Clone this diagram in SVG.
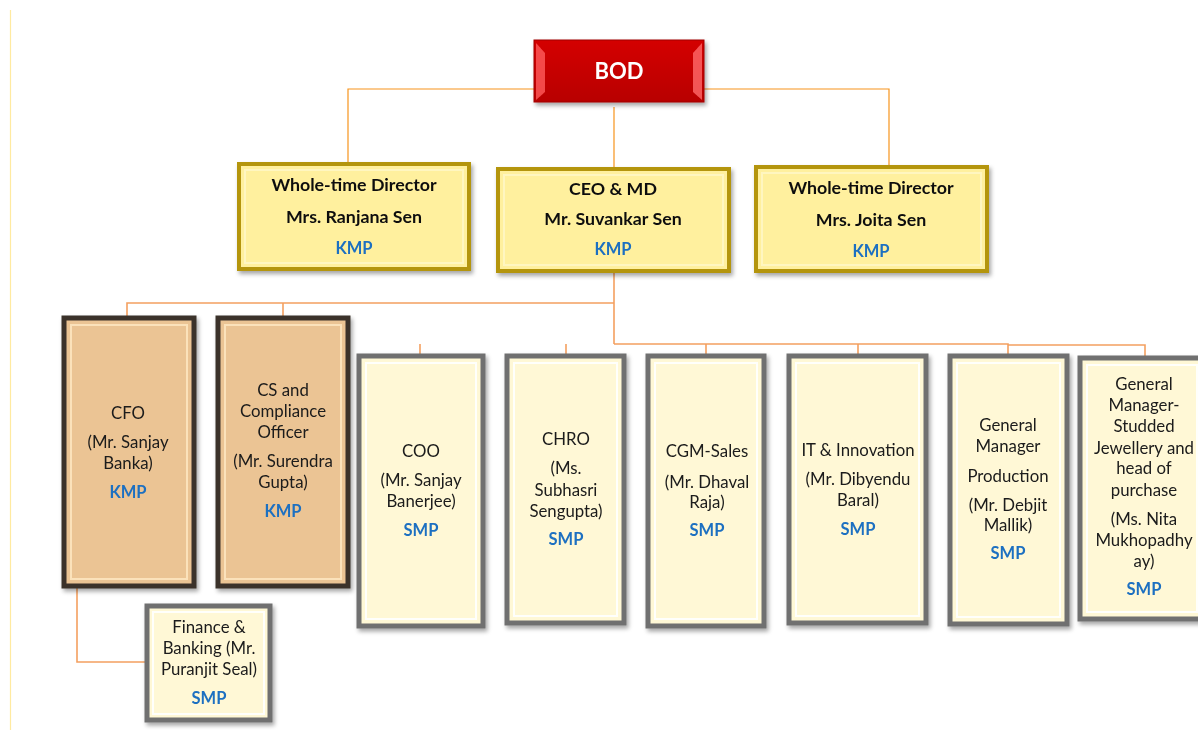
<svg xmlns="http://www.w3.org/2000/svg" width="1198" height="730" viewBox="0 0 1198 730">
<defs>
<filter id="sh" x="-10%" y="-10%" width="130%" height="130%"><feDropShadow dx="2" dy="3" stdDeviation="2" flood-color="#000" flood-opacity="0.35"/></filter>
<linearGradient id="red" x1="0" y1="0" x2="0" y2="1"><stop offset="0" stop-color="#d40000"/><stop offset="1" stop-color="#b80000"/></linearGradient>
</defs>
<style>
.t{font-family:Lato,"Liberation Sans",sans-serif;font-size:16.8px;fill:#1a1a1a;text-anchor:middle}
.b{font-family:Lato,"Liberation Sans",sans-serif;font-size:17.8px;font-weight:bold;fill:#111;text-anchor:middle}
.k{font-family:Lato,"Liberation Sans",sans-serif;font-size:16.5px;font-weight:bold;fill:#1f70c1;text-anchor:middle}
.c{fill:none;stroke:#f4a060;stroke-width:1.6}
.c2{fill:none;stroke:#f7941d;stroke-width:1.2}
.y{fill:#fff09e;stroke:#b4950c;stroke-width:4}
.yi{fill:none;stroke:#fff8c8;stroke-width:2;opacity:0.8}
.o{fill:#ebc494;stroke:#3b3129;stroke-width:5}
.oi{fill:none;stroke:#fbe2bb;stroke-width:2}
.g{fill:#fff8d6;stroke:#6f6f6f;stroke-width:5}
.gi{fill:none;stroke:#ffffff;stroke-width:2;opacity:0.9}
</style>
<rect width="1198" height="730" fill="#ffffff"/>
<line x1="10.5" y1="10" x2="10.5" y2="730" stroke="#ffeaa0" stroke-width="1.2"/>
<g id="connectors">
<path class="c2" d="M534 89 H348 V163 M704 89 H889 V166 M614 107 V168"/>
<path class="c" d="M614 272 V344 M614 303 H127 V317 M283 303 V317"/>
<path class="c" d="M614 344 H1008 V355 M1008 345 H1145 V357 M420 344 V355 M566 344 V355 M706 344 V355 M858 344 V355"/>
<path class="c" d="M77 587 V662 H146"/>
</g>
<g id="bod" filter="url(#sh)">
<rect x="534" y="40" width="170" height="62" fill="url(#red)" stroke="#a00000" stroke-width="1"/>
<path d="M536 43 L545 53 V92 L536 100 Z" fill="#ff5a5a" opacity="0.8"/>
<path d="M702 43 L693 53 V92 L702 100 Z" fill="#ff6a6a" opacity="0.8"/>
<text x="619" y="79" font-family="Lato,'Liberation Sans',sans-serif" font-size="22" font-weight="bold" fill="#ffffff" text-anchor="middle">BOD</text>
</g>
<g id="wtd-ranjana" filter="url(#sh)">
<rect class="y" x="239" y="164" width="230" height="105"/>
<rect class="yi" x="245" y="170" width="218" height="93"/>
<text class="b" x="354" y="191">Whole-time Director</text>
<text class="b" x="354" y="223">Mrs. Ranjana Sen</text>
<text class="k" x="354" y="254">KMP</text>
</g>
<g id="ceo" filter="url(#sh)">
<rect class="y" x="498" y="169" width="231" height="102"/>
<rect class="yi" x="504" y="175" width="219" height="90"/>
<text class="b" x="613" y="195">CEO &amp; MD</text>
<text class="b" x="613" y="225">Mr. Suvankar Sen</text>
<text class="k" x="613" y="255">KMP</text>
</g>
<g id="wtd-joita" filter="url(#sh)">
<rect class="y" x="756" y="167" width="231" height="104"/>
<rect class="yi" x="762" y="173" width="219" height="92"/>
<text class="b" x="871" y="194">Whole-time Director</text>
<text class="b" x="871" y="226">Mrs. Joita Sen</text>
<text class="k" x="871" y="257">KMP</text>
</g>
<g id="cfo" filter="url(#sh)">
<rect class="o" x="64" y="318" width="130" height="268"/>
<rect class="oi" x="71" y="325" width="116" height="254"/>
<text class="t" x="128" y="419">CFO</text>
<text class="t" x="128" y="448">(Mr. Sanjay</text>
<text class="t" x="128" y="469">Banka)</text>
<text class="k" x="128" y="498">KMP</text>
</g>
<g id="cs" filter="url(#sh)">
<rect class="o" x="218" y="318" width="130" height="268"/>
<rect class="oi" x="225" y="325" width="116" height="254"/>
<text class="t" x="283" y="396">CS and</text>
<text class="t" x="283" y="417">Compliance</text>
<text class="t" x="283" y="438">Officer</text>
<text class="t" x="283" y="467">(Mr. Surendra</text>
<text class="t" x="283" y="488">Gupta)</text>
<text class="k" x="283" y="517">KMP</text>
</g>
<g id="coo" filter="url(#sh)">
<rect class="g" x="359" y="356" width="124" height="270"/>
<rect class="gi" x="366" y="363" width="110" height="256"/>
<text class="t" x="421" y="457">COO</text>
<text class="t" x="421" y="486">(Mr. Sanjay</text>
<text class="t" x="421" y="507">Banerjee)</text>
<text class="k" x="421" y="536">SMP</text>
</g>
<g id="chro" filter="url(#sh)">
<rect class="g" x="507" y="356" width="117" height="267"/>
<rect class="gi" x="514" y="363" width="103" height="253"/>
<text class="t" x="566" y="445">CHRO</text>
<text class="t" x="566" y="474">(Ms.</text>
<text class="t" x="566" y="496">Subhasri</text>
<text class="t" x="566" y="517">Sengupta)</text>
<text class="k" x="566" y="545">SMP</text>
</g>
<g id="cgm" filter="url(#sh)">
<rect class="g" x="648" y="356" width="116" height="270"/>
<rect class="gi" x="655" y="363" width="102" height="256"/>
<text class="t" x="707" y="457">CGM-Sales</text>
<text class="t" x="707" y="488">(Mr. Dhaval</text>
<text class="t" x="707" y="508">Raja)</text>
<text class="k" x="707" y="536">SMP</text>
</g>
<g id="it" filter="url(#sh)">
<rect class="g" x="789" y="356" width="137" height="267"/>
<rect class="gi" x="796" y="363" width="123" height="253"/>
<text class="t" x="858" y="456">IT &amp; Innovation</text>
<text class="t" x="858" y="485">(Mr. Dibyendu</text>
<text class="t" x="858" y="506">Baral)</text>
<text class="k" x="858" y="535">SMP</text>
</g>
<g id="gm-production" filter="url(#sh)">
<rect class="g" x="950" y="356" width="117" height="268"/>
<rect class="gi" x="957" y="363" width="103" height="254"/>
<text class="t" x="1008" y="431">General</text>
<text class="t" x="1008" y="452">Manager</text>
<text class="t" x="1008" y="482">Production</text>
<text class="t" x="1008" y="511">(Mr. Debjit</text>
<text class="t" x="1008" y="531">Mallik)</text>
<text class="k" x="1008" y="559">SMP</text>
</g>
<g id="gm-studded" filter="url(#sh)">
<rect class="g" x="1080" y="358" width="124" height="261"/>
<rect class="gi" x="1087" y="365" width="110" height="247"/>
<text class="t" x="1144" y="390">General</text>
<text class="t" x="1144" y="411">Manager-</text>
<text class="t" x="1144" y="432">Studded</text>
<text class="t" x="1144" y="454">Jewellery and</text>
<text class="t" x="1144" y="474">head of</text>
<text class="t" x="1144" y="496">purchase</text>
<text class="t" x="1144" y="525">(Ms. Nita</text>
<text class="t" x="1144" y="546">Mukhopadhy</text>
<text class="t" x="1144" y="567">ay)</text>
<text class="k" x="1144" y="595">SMP</text>
</g>
<g id="finance" filter="url(#sh)">
<rect class="g" x="147" y="606" width="123" height="114" stroke-width="4"/>
<rect class="gi" x="153" y="612" width="111" height="102"/>
<text class="t" x="209" y="633">Finance &amp;</text>
<text class="t" x="209" y="654">Banking (Mr.</text>
<text class="t" x="209" y="675">Puranjit Seal)</text>
<text class="k" x="209" y="704">SMP</text>
</g>
</svg>
